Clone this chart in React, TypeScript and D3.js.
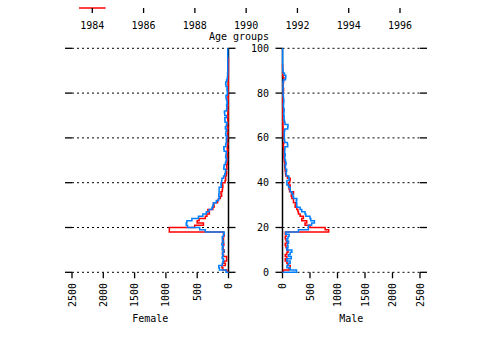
import { line, scaleLinear } from 'd3';

const AGE_TICKS = [0, 20, 40, 60, 80, 100];
const COUNT_TICKS = [0, 500, 1000, 1500, 2000, 2500];
const YEAR_TICKS = [1984, 1986, 1988, 1990, 1992, 1994, 1996];
const CURRENT_YEAR = 1984;

// counts per single year of age, starting at age 0
const femaleRed = [
  25, 90, 105, 50, 75, 30, 30, 80, 95, 70,
  85, 90, 75, 95, 80, 90, 70, 80, 945, 945,
  540, 400, 500, 470, 370, 345, 305, 330, 250, 230,
  240, 175, 160, 130, 110, 120, 100, 95, 90, 105,
  55, 45, 50, 35, 30, 40, 25, 30, 20, 25,
  15, 20, 15, 25, 10, 20, 15, 10, 20, 15,
  10, 15, 10, 12, 8, 15, 10, 8, 12, 6,
  10, 8, 6, 10, 5, 8, 6, 4, 8, 5,
  6, 4, 5, 3, 5, 3, 4, 2, 3, 2,
  2, 1, 2, 1, 1, 1,
];
const femaleBlue = [
  40, 145, 155, 100, 90, 80, 100, 85, 95, 75,
  100, 85, 105, 80, 95, 100, 80, 70, 370, 460,
  655, 675, 665, 585, 480, 410, 355, 310, 265, 250,
  240, 195, 160, 145, 155, 150, 150, 150, 115, 120,
  110, 105, 80, 60, 50, 45, 75, 70, 50, 40,
  30, 45, 40, 35, 70, 75, 45, 40, 30, 35,
  25, 45, 40, 30, 50, 35, 25, 55, 60, 35,
  60, 65, 30, 25, 30, 20, 25, 35, 40, 20,
  15, 25, 20, 40, 45, 30, 20, 15, 15, 12,
  12, 12, 12, 12, 12, 12, 12, 12, 12, 12,
];
const maleRed = [
  18, 120, 140, 97, 80, 50, 80, 50, 80, 100,
  80, 65, 50, 85, 65, 50, 65, 50, 840, 775,
  500, 410, 440, 350, 380, 320, 290, 280, 260, 230,
  240, 200, 200, 170, 160, 200, 130, 120, 140, 110,
  130, 140, 90, 60, 55, 50, 45, 40, 45, 35,
  30, 25, 30, 20, 25, 20, 15, 20, 35, 30,
  15, 10, 12, 8, 10, 6, 8, 5, 6, 4,
  5, 8, 5, 4, 6, 3, 4, 3, 5, 8,
  15, 20, 10, 6, 15, 20, 25, 10, 4, 2,
  2, 1, 1,
];
const maleBlue = [
  255, 140, 80, 110, 140, 80, 160, 110, 140, 170,
  80, 100, 90, 110, 80, 100, 120, 60, 290, 470,
  470, 530, 580, 515, 500, 425, 410, 350, 320, 260,
  260, 250, 260, 200, 190, 170, 140, 140, 110, 80,
  80, 120, 115, 70, 65, 75, 55, 50, 65, 55,
  45, 40, 50, 35, 40, 45, 95, 90, 40, 35,
  30, 35, 30, 40, 95, 100, 45, 35, 25, 30,
  20, 25, 30, 20, 15, 20, 25, 20, 15, 10,
  10, 8, 12, 10, 8, 15, 55, 60, 35, 10,
  5, 4, 3, 2, 2, 2, 2, 2, 2, 2,
];

const RED = '#ff0000';
const BLUE = '#0080ff';
const FONT = '"DejaVu Sans Mono", monospace';

const yScale = scaleLinear().domain([0, 100]).range([272.3, 48.3]);
const femaleX = scaleLinear().domain([2500, 0]).range([72, 228.5]);
const maleX = scaleLinear().domain([0, 2500]).range([282.5, 420]);
const yearX = scaleLinear().domain([1984, 1996]).range([92.3, 400]);

// outline of a one-year histogram, ages running up the page
function stepPath(values: number[], x: (v: number) => number) {
  const points: Array<[number, number]> = [[0, 0]];
  values.forEach((v, age) => {
    points.push([v, age], [v, age + 1]);
  });
  return line<[number, number]>()
    .x((d) => x(d[0]))
    .y((d) => yScale(d[1]))(points) ?? '';
}

function Panel({ x, side, label }: { x: (v: number) => number; side: 'left' | 'right'; label: string }) {
  const x0 = x(0);
  const xFar = x(2500);
  const lo = Math.min(x0, xFar);
  const hi = Math.max(x0, xFar);
  const y0 = yScale(0);
  return (
    <g>
      {AGE_TICKS.map((t) => (
        <g key={`g-${t}`}>
          <line x1={lo} x2={hi} y1={yScale(t)} y2={yScale(t)} stroke="#000" strokeWidth={1} strokeDasharray="2 3" />
          <line x1={lo - 7} x2={lo} y1={yScale(t)} y2={yScale(t)} stroke="#000" strokeWidth={1.3} />
          <line x1={hi} x2={hi + 7} y1={yScale(t)} y2={yScale(t)} stroke="#000" strokeWidth={1.3} />
        </g>
      ))}
      {COUNT_TICKS.map((t) => (
        <g key={`c-${t}`}>
          <line x1={x(t)} x2={x(t)} y1={y0} y2={y0 + 6} stroke="#000" strokeWidth={1.3} />
          <text
            transform={`translate(${x(t)} 283) rotate(-90)`}
            textAnchor="end"
            dominantBaseline="central"
            fontSize={10}
            fontFamily={FONT}
          >
            {t}
          </text>
        </g>
      ))}
      <line x1={x0} x2={x0} y1={yScale(0)} y2={yScale(100)} stroke="#000" strokeWidth={1.5} />
      <text x={(lo + hi) / 2} y={322} textAnchor="middle" fontSize={10} fontFamily={FONT}>
        {label}
      </text>
      <path d={stepPath(side === 'left' ? femaleRed : maleRed, x)} fill="none" stroke={RED} strokeWidth={1.5} />
      <path d={stepPath(side === 'left' ? femaleBlue : maleBlue, x)} fill="none" stroke={BLUE} strokeWidth={1.5} />
    </g>
  );
}

export default function App() {
  return (
    <svg
      width={480}
      height={360}
      viewBox="0 0 480 360"
      style={{ position: 'absolute', left: 0, top: 0, background: '#fff' }}
    >
      <line
        x1={yearX(CURRENT_YEAR - 0.52)}
        x2={yearX(CURRENT_YEAR + 0.52)}
        y1={8}
        y2={8}
        stroke={RED}
        strokeWidth={1.5}
      />
      {YEAR_TICKS.map((yr) => (
        <g key={yr}>
          <line x1={yearX(yr)} x2={yearX(yr)} y1={8} y2={13} stroke="#000" strokeWidth={1.3} />
          <text x={yearX(yr)} y={29} textAnchor="middle" fontSize={10} fontFamily={FONT}>
            {yr}
          </text>
        </g>
      ))}
      <text x={239} y={40} textAnchor="middle" fontSize={10} fontFamily={FONT}>
        Age groups
      </text>
      {AGE_TICKS.map((t) => (
        <text key={t} x={269} y={yScale(t)} textAnchor="end" dominantBaseline="central" fontSize={10} fontFamily={FONT}>
          {t}
        </text>
      ))}
      <Panel x={femaleX} side="left" label="Female" />
      <Panel x={maleX} side="right" label="Male" />
    </svg>
  );
}
